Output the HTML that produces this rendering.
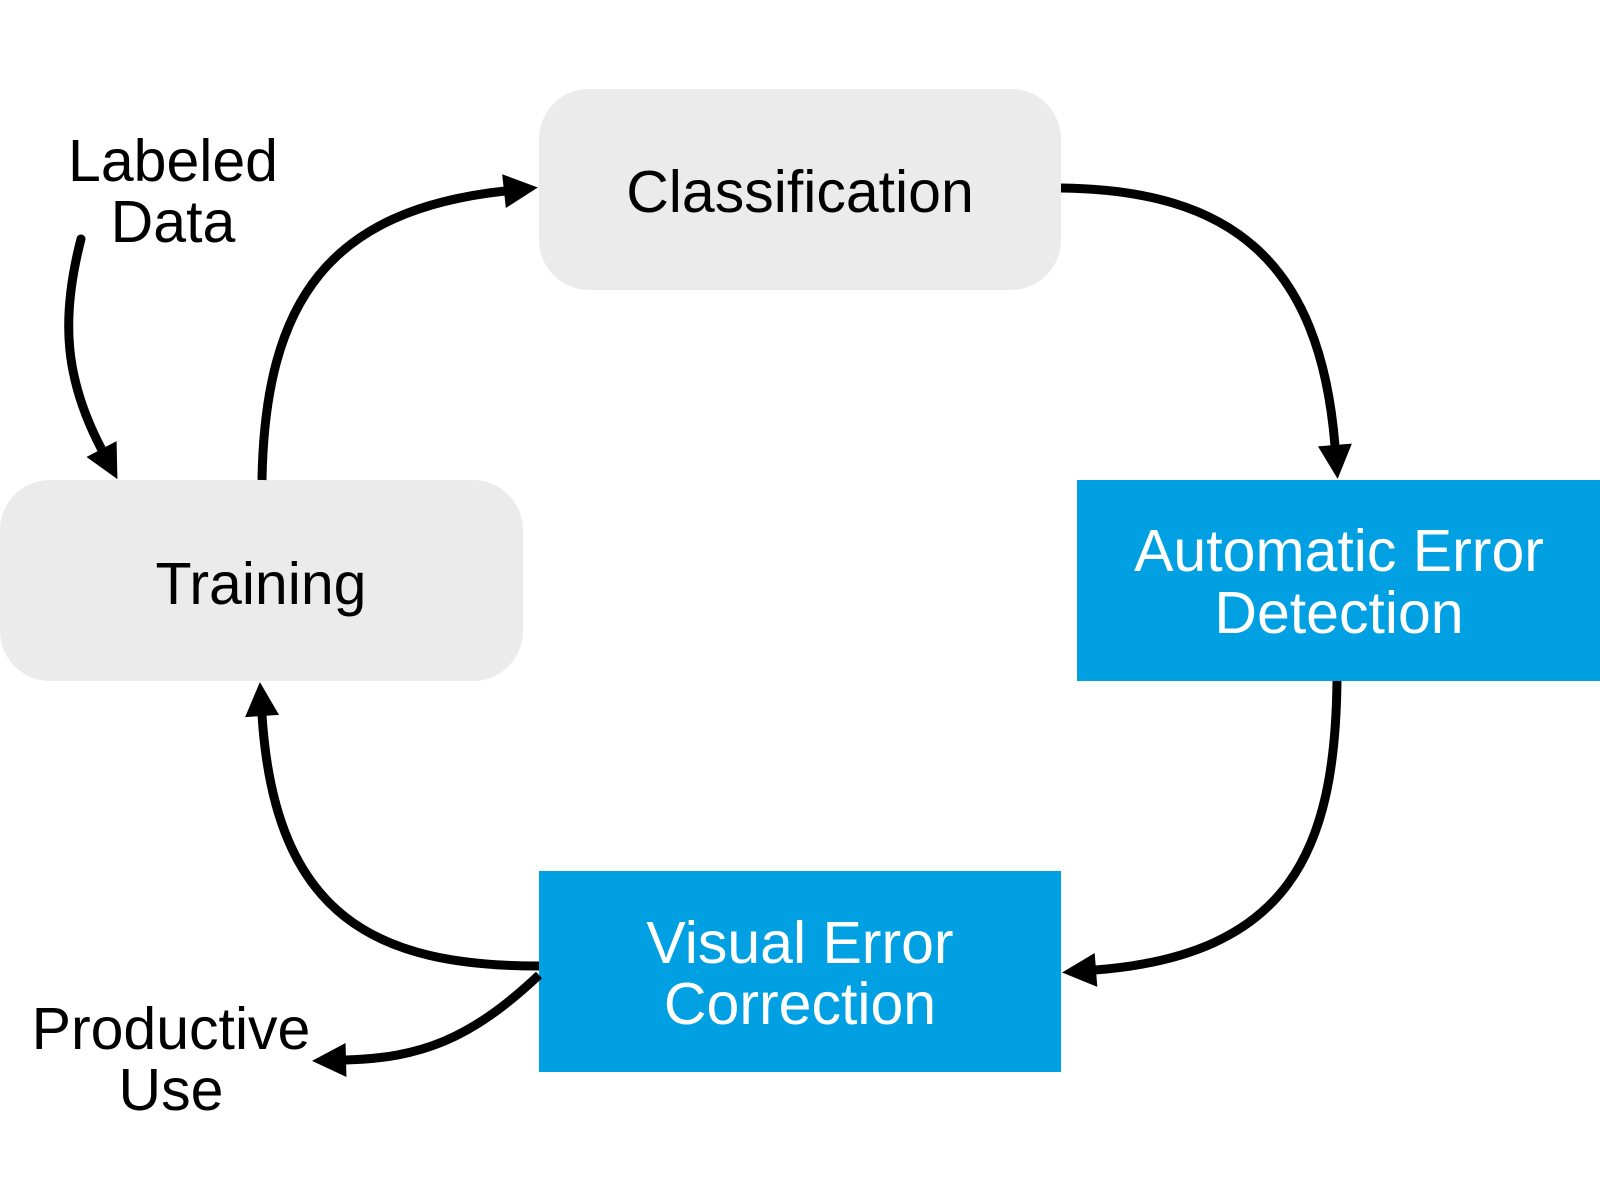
<!DOCTYPE html>
<html><head><style>html,body{margin:0;padding:0;background:#fff}svg{display:block}</style></head>
<body>
<svg width="1600" height="1200" viewBox="0 0 1600 1200" xmlns="http://www.w3.org/2000/svg" font-family="Liberation Sans, Arial, sans-serif">
<defs>
<marker id="a" markerUnits="userSpaceOnUse" markerWidth="40" markerHeight="40" refX="1" refY="17" orient="auto" overflow="visible">
<path d="M0,0 L34,17 L0,34 Z" fill="#000"/>
</marker>
</defs>
<rect x="539" y="89" width="522" height="201" rx="50" fill="#ebebeb"/>
<rect x="0" y="480" width="523" height="201" rx="50" fill="#ebebeb"/>
<rect x="1077" y="480" width="523" height="201" fill="#00a0e3"/>
<rect x="539" y="871" width="522" height="201" fill="#00a0e3"/>
<g fill="none" stroke="#000" stroke-width="9">
<path d="M262 480 C 265 300, 330 210, 505 191" marker-end="url(#a)"/>
<path d="M1061 188 C 1230 190, 1320 260, 1335 446" marker-end="url(#a)"/>
<path d="M1337 681 C 1335 850, 1290 955, 1095 970" marker-end="url(#a)"/>
<path d="M539 966 C 380 966, 275 920, 262 715" marker-end="url(#a)"/>
<path d="M539 975 C 470 1040, 420 1058, 345 1060" marker-end="url(#a)"/>
<path d="M81 239 C 60 320, 65 380, 102 450" stroke-linecap="round" marker-end="url(#a)"/>
</g>
<g font-size="59" text-anchor="middle">
<text x="800" y="212" fill="#000">Classification</text>
<text x="261" y="604" fill="#000">Training</text>
<text x="1339" y="571" fill="#fff">Automatic Error</text>
<text x="1339" y="633" fill="#fff">Detection</text>
<text x="800" y="963" fill="#fff">Visual Error</text>
<text x="800" y="1024" fill="#fff">Correction</text>
<text x="173" y="181" fill="#000">Labeled</text>
<text x="173" y="242" fill="#000">Data</text>
<text x="171" y="1049" fill="#000">Productive</text>
<text x="171" y="1110" fill="#000">Use</text>
</g>
</svg>
</body></html>
